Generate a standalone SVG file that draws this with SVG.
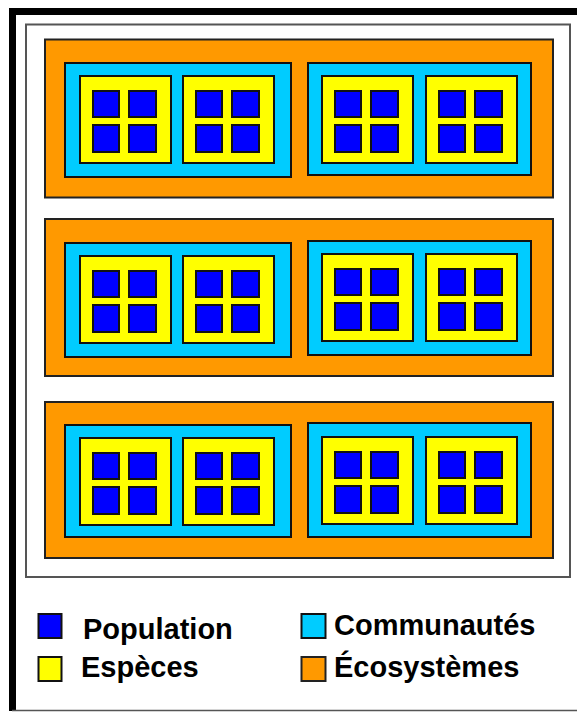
<svg xmlns="http://www.w3.org/2000/svg" width="577" height="712" viewBox="0 0 577 712">
<style>
.eco{fill:#ff9900;stroke:#222;stroke-width:2}
.com{fill:#00ccff;stroke:#111;stroke-width:2}
.esp{fill:#ffff00;stroke:#111;stroke-width:2}
.pop{fill:#0000ff;stroke:#111;stroke-width:2}
.lbl{font-family:"Liberation Sans",Arial,sans-serif;font-weight:bold;font-size:29px;fill:#000}
</style>
<defs>
<g id="sp">
<rect class="esp" x="0" y="0" width="91" height="87"/>
<rect class="pop" x="13" y="15" width="26" height="26"/>
<rect class="pop" x="49" y="15" width="27" height="26"/>
<rect class="pop" x="13" y="49" width="26" height="27"/>
<rect class="pop" x="49" y="49" width="27" height="27"/>
</g>
</defs>
<rect x="0" y="0" width="577" height="712" fill="#fff"/>
<g id="frame">
<path d="M12.5 711 V11.5 H577" fill="none" stroke="#000" stroke-width="7"/>
<line x1="12" y1="710.5" x2="577" y2="710.5" stroke="#555" stroke-width="1.5"/>
<rect x="26" y="24.5" width="544" height="552.5" fill="#fff" stroke="#555" stroke-width="2"/>
</g>
<g id="eco1">
<rect class="eco" x="45" y="39.5" width="508" height="158"/>
<g id="com1a"><rect class="com" x="65" y="63" width="226" height="114"/>
<use href="#sp" x="80" y="76"/><use href="#sp" x="183" y="76"/></g>
<g id="com1b"><rect class="com" x="308" y="63" width="223" height="112"/>
<use href="#sp" x="322" y="76"/><use href="#sp" x="426" y="76"/></g>
</g>
<g id="eco2">
<rect class="eco" x="45" y="219" width="508" height="157"/>
<g id="com2a"><rect class="com" x="65" y="243" width="226" height="114"/>
<use href="#sp" x="80" y="256"/><use href="#sp" x="183" y="256"/></g>
<g id="com2b"><rect class="com" x="308" y="241" width="223" height="114"/>
<use href="#sp" x="322" y="254"/><use href="#sp" x="426" y="254"/></g>
</g>
<g id="eco3">
<rect class="eco" x="45" y="402" width="508" height="156"/>
<g id="com3a"><rect class="com" x="65" y="425" width="226" height="112"/>
<use href="#sp" x="80" y="438"/><use href="#sp" x="183" y="438"/></g>
<g id="com3b"><rect class="com" x="308" y="423" width="223" height="114"/>
<use href="#sp" x="322" y="437"/><use href="#sp" x="426" y="437"/></g>
</g>
<g id="legend">
<g id="leg-pop"><rect class="pop" x="38.5" y="614" width="23" height="24"/><text class="lbl" x="83" y="639">Population</text></g>
<g id="leg-esp"><rect class="esp" x="38.5" y="657" width="23" height="24"/><text class="lbl" x="81" y="677">Espèces</text></g>
<g id="leg-com"><rect class="com" x="301.5" y="614" width="24" height="24"/><text class="lbl" x="334" y="635">Communautés</text></g>
<g id="leg-eco"><rect class="eco" x="301.5" y="657" width="24" height="24"/><text class="lbl" x="334" y="677">Écosystèmes</text></g>
</g>
</svg>
